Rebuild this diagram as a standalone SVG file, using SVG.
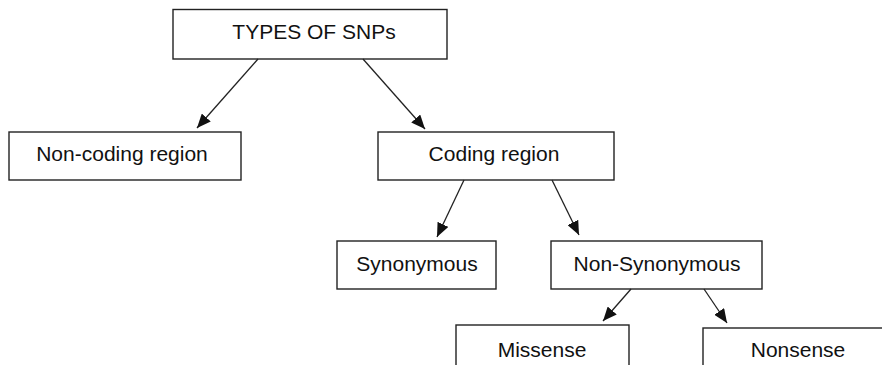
<svg xmlns="http://www.w3.org/2000/svg" width="882" height="365" viewBox="0 0 882 365">
<style>
.box{fill:#fff;stroke:#222;stroke-width:1.4}
.lbl{font-family:"Liberation Sans",Arial,sans-serif;font-size:21px;fill:#111;text-anchor:middle}
.edge{stroke:#222;stroke-width:1.3;fill:none;marker-end:url(#ah)}
</style>
<defs>
<marker id="ah" markerUnits="userSpaceOnUse" markerWidth="14" markerHeight="12" refX="14" refY="6" orient="auto">
<path d="M0,0 L14,6 L0,12 z" fill="#111"/>
</marker>
</defs>
<rect width="882" height="365" fill="#fff"/>
<g id="types">
<rect class="box" x="173" y="9.5" width="274" height="49.5"/>
<text class="lbl" x="314" y="39">TYPES OF SNPs</text>
</g>
<g id="noncoding">
<rect class="box" x="9" y="132" width="232" height="48"/>
<text class="lbl" x="122" y="161">Non-coding region</text>
</g>
<g id="coding">
<rect class="box" x="378" y="132" width="236" height="48"/>
<text class="lbl" x="494" y="161">Coding region</text>
</g>
<g id="synonymous">
<rect class="box" x="337" y="241" width="159" height="48"/>
<text class="lbl" x="417" y="271">Synonymous</text>
</g>
<g id="nonsynonymous">
<rect class="box" x="551" y="241" width="211" height="48"/>
<text class="lbl" x="657" y="271">Non-Synonymous</text>
</g>
<g id="missense">
<rect class="box" x="456" y="325" width="173" height="60"/>
<text class="lbl" x="542" y="357">Missense</text>
</g>
<g id="nonsense">
<rect class="box" x="703" y="328" width="200" height="60"/>
<text class="lbl" x="798" y="357">Nonsense</text>
</g>
<g id="connectors">
<line class="edge" x1="258" y1="59" x2="197" y2="128"/>
<line class="edge" x1="363" y1="59" x2="425" y2="129"/>
<line class="edge" x1="464" y1="180" x2="437" y2="237"/>
<line class="edge" x1="552" y1="180" x2="579" y2="235"/>
<line class="edge" x1="631" y1="289" x2="603" y2="321"/>
<line class="edge" x1="704" y1="289" x2="727" y2="323"/>
</g>
</svg>
